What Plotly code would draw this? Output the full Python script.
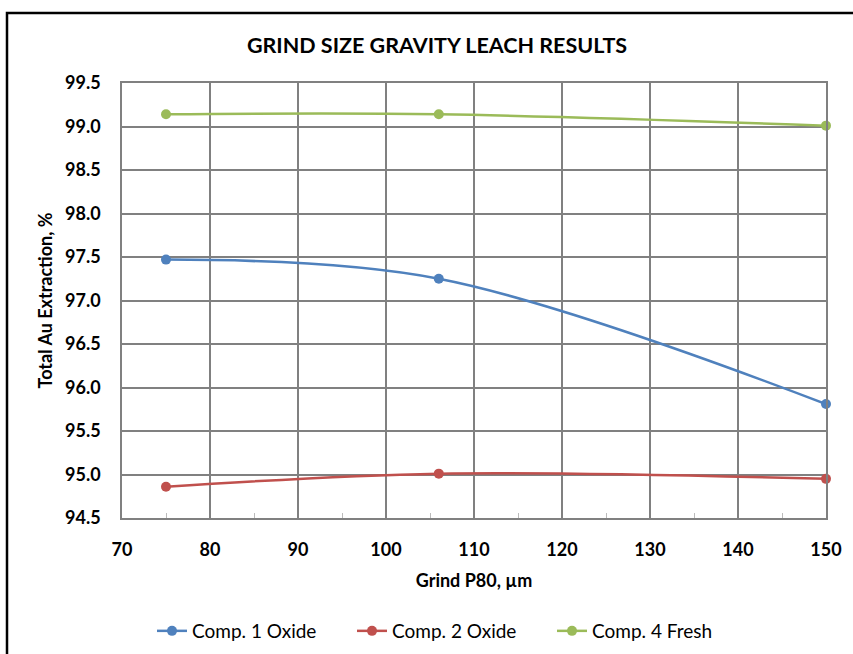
import plotly.graph_objects as go

grind_p80 = [75, 106, 150]
comp1_oxide = [97.47, 97.25, 95.81]
comp2_oxide = [94.86, 95.01, 94.95]
comp4_fresh = [99.14, 99.14, 99.01]

series = [
    ("Comp. 1 Oxide", comp1_oxide, "#4F81BD"),
    ("Comp. 2 Oxide", comp2_oxide, "#C0504D"),
    ("Comp. 4 Fresh", comp4_fresh, "#9BBB59"),
]

font_family = "Lato, 'Open Sans', sans-serif"

fig = go.Figure()
for name, vals, color in series:
    fig.add_trace(go.Scatter(
        x=grind_p80, y=vals, name=name, mode="lines+markers",
        line=dict(color=color, width=2.5, shape="spline", smoothing=1.0),
        marker=dict(color=color, size=10),
        cliponaxis=False,
    ))

grid_color = "#808080"
fig.update_layout(
    width=853, height=654,
    paper_bgcolor="white", plot_bgcolor="white",
    margin=dict(l=122, r=27, t=83, b=136, autoexpand=False),
    title=dict(text="<b>GRIND SIZE GRAVITY LEACH RESULTS</b>", x=437 / 853, xanchor="center",
               y=1 - 45 / 654, yanchor="middle",
               font=dict(family=font_family, size=21.5, color="black")),
    font=dict(family=font_family, color="black"),
    showlegend=True,
    legend=dict(orientation="h", x=(452 - 122) / 704, xanchor="center",
                y=(518 - 631) / 435, yanchor="middle",
                entrywidth=155, entrywidthmode="pixels",
                font=dict(size=19, color="black"), traceorder="normal"),
)
fig.update_xaxes(
    range=[70, 150], dtick=10, tick0=70, automargin=False,
    showgrid=True, gridcolor=grid_color, gridwidth=1.5,
    showline=True, linecolor=grid_color, linewidth=1.5, mirror=True,
    ticks="", tickfont=dict(size=18, family=font_family, color="black", weight="bold"),
    ticklabelstandoff=15,
    minor=dict(dtick=5, tick0=70, ticks="inside", ticklen=5, tickcolor="#bbbbbb", showgrid=False),
    title=dict(text="<b>Grind P80, µm</b>", font=dict(size=18, family=font_family, color="black"), standoff=15),
    zeroline=False,
)
fig.update_yaxes(
    range=[94.5, 99.5], dtick=0.5, tick0=94.5, tickformat=".1f", automargin=False,
    showgrid=True, gridcolor=grid_color, gridwidth=1.5,
    showline=True, linecolor=grid_color, linewidth=1.5, mirror=True,
    ticks="", tickfont=dict(size=18, family=font_family, color="black", weight="bold"),
    ticklabelstandoff=16,
    title=dict(text="<b>Total Au Extraction, %</b>", font=dict(size=18, family=font_family, color="black"), standoff=8),
    zeroline=False,
)

# outer chart border (Excel-style frame, cropped at right/bottom)
fig.add_shape(type="rect", xref="paper", yref="paper",
              x0=(7 - 122) / 704, x1=(870 - 122) / 704,
              y0=(518 - 670) / 435, y1=(518 - 13) / 435,
              line=dict(color="black", width=2.5), fillcolor="rgba(0,0,0,0)", layer="below")

fig.write_html("out.html", config={"displayModeBar": False},
               post_script="document.body.style.margin='0';document.body.style.padding='0';")
